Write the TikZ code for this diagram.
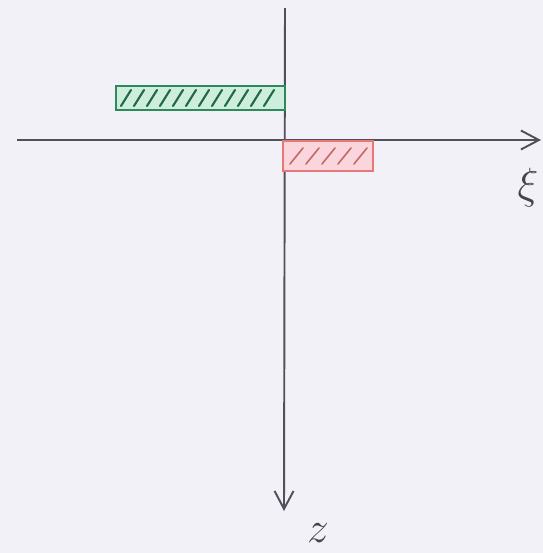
\documentclass[tikz,border=0pt]{standalone}
\usepackage{tikz}
\usetikzlibrary{arrows.meta,positioning}
\definecolor{paper}{HTML}{F2F1F8}
\definecolor{ink}{HTML}{50505A}
\definecolor{greenink}{HTML}{2F8A5A}
\definecolor{greenbg}{HTML}{CDEEDC}
\definecolor{redink}{HTML}{E87878}
\definecolor{redbg}{HTML}{FAD6DC}
\tikzset{
  axisline/.style={draw=ink,line width=1.1pt,
                   -{Straight Barb[length=3.6mm,width=3.8mm,line width=1.1pt]}},
  greenbar/.style={draw=greenink,fill=greenbg,line width=0.9pt},
  redbar/.style={draw=redink,fill=redbg,line width=0.8pt},
  greenhatch/.style={draw=greenink!75!black,line width=1.2pt,line cap=round},
  redhatch/.style={draw=redink!85!black,line width=0.9pt,line cap=round},
  axislabel/.style={text=ink!85!black,inner sep=0pt}
}
\begin{document}
\begin{tikzpicture}[x=0.2mm,y=-0.2mm]
  % paper
  \fill[paper] (0,0) rectangle (543,553);
  \useasboundingbox (0,0) rectangle (543,553);

  % axes
  \coordinate (origin) at (285,140);
  \coordinate (xi start) at (17,140);
  \coordinate (xi end) at (541,140);
  \coordinate (z start) at (285,8);
  \coordinate (z end) at (284,511);
  \draw[axisline] (xi start) -- (xi end);
  \draw[axisline] (z start) -- (z end);

  % green bar above the xi axis
  \coordinate (green nw) at (116,86);
  \coordinate (green se) at (285,110);
  \draw[greenbar] (green nw) rectangle (green se);
  \foreach \x in {121,134,...,272}
    \draw[greenhatch] (\x,106) -- (\x+10,90);

  % red bar below the xi axis
  \coordinate (red nw) at (283,141);
  \coordinate (red se) at (373,171);
  \draw[redbar] (red nw) rectangle (red se);
  \foreach \x in {290,306,...,356}
    \draw[redhatch] (\x,164) -- (\x+13,148);

  % labels
  \node[axislabel,font=\fontsize{33}{33}\selectfont] (xi label) at (528,188) {$\xi$};
  \node[axislabel,font=\fontsize{38}{38}\selectfont] (z label) at (318,533) {$z$};
\end{tikzpicture}
\end{document}
